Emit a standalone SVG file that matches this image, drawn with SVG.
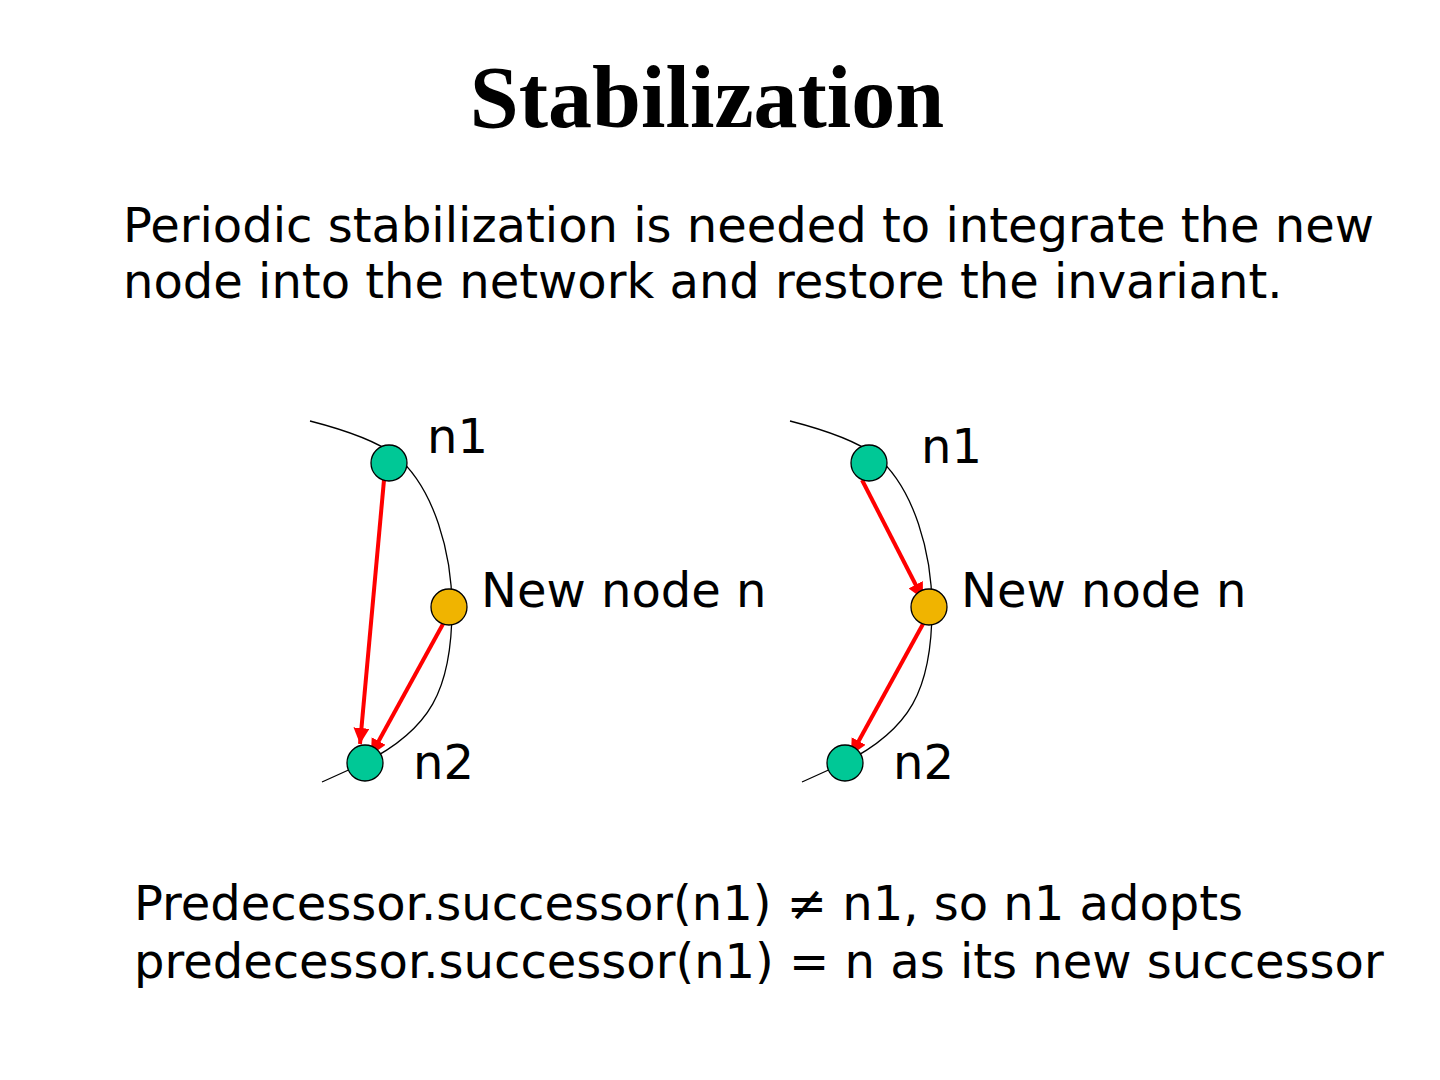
<svg xmlns="http://www.w3.org/2000/svg" width="1440" height="1080" viewBox="0 0 1440 1080">
<defs>
<marker id="ah" viewBox="0 0 10 10" refX="10" refY="5" markerWidth="4" markerHeight="4" markerUnits="strokeWidth" orient="auto">
<path d="M0,0 L10,5 L0,10 z" fill="#ff0000"/>
</marker>
<style>
.t{font-family:"DejaVu Sans",sans-serif;font-size:48px;fill:#000}
.title{font-family:"Liberation Serif",serif;font-weight:bold;font-size:88px;fill:#000}
.ring{fill:none;stroke:#000;stroke-width:1.3}
.arr{stroke:#ff0000;stroke-width:4;fill:none;marker-end:url(#ah)}
.g{fill:#00c896;stroke:#000;stroke-width:1.3}
.o{fill:#f0b400;stroke:#000;stroke-width:1.3}
</style>
</defs>
<rect width="1440" height="1080" fill="#fff"/>
<text class="title" x="707" y="127" text-anchor="middle">Stabilization</text>
<text class="t" x="123" y="242">Periodic stabilization is needed to integrate the new</text>
<text class="t" x="123" y="298">node into the network and restore the invariant.</text>

<g id="connectors">
<path class="ring" d="M310,421 C345,430 375,440 395,455 C435,488 452,555 452,608 C452,690 430,730 364,763 L322,782"/>
<path class="ring" d="M790,421 C825,430 855,440 875,455 C915,488 932,555 932,608 C932,690 910,730 844,763 L802,782"/>
<line class="arr" x1="384" y1="480" x2="360" y2="744"/>
<line class="arr" x1="443" y1="624" x2="371" y2="755"/>
<line class="arr" x1="862" y1="480" x2="923" y2="599"/>
<line class="arr" x1="923" y1="624" x2="851" y2="755"/>
</g>

<g id="left-n1"><circle class="g" cx="389" cy="463" r="18"/><text class="t" x="427" y="453">n1</text></g>
<g id="left-n"><circle class="o" cx="449" cy="607" r="18"/><text class="t" x="481" y="607">New node n</text></g>
<g id="left-n2"><circle class="g" cx="365" cy="763" r="18"/><text class="t" x="413" y="779">n2</text></g>

<g id="right-n1"><circle class="g" cx="869" cy="463" r="18"/><text class="t" x="921" y="463">n1</text></g>
<g id="right-n"><circle class="o" cx="929" cy="607" r="18"/><text class="t" x="961" y="607">New node n</text></g>
<g id="right-n2"><circle class="g" cx="845" cy="763" r="18"/><text class="t" x="893" y="779">n2</text></g>

<text class="t" x="134" y="920">Predecessor.successor(n1) ≠ n1, so n1 adopts</text>
<text class="t" x="134" y="978">predecessor.successor(n1) = n as its new successor</text>
</svg>
